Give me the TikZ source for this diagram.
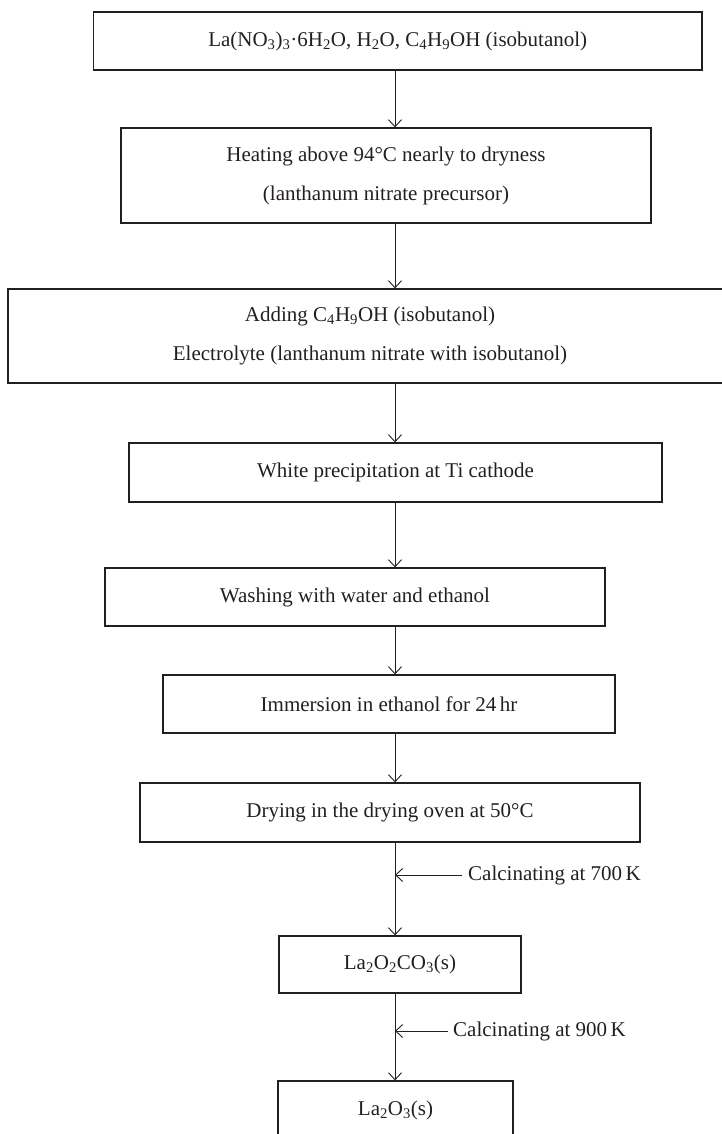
\documentclass[tikz,border=0pt]{standalone}
\usepackage{fontspec}
\setmainfont{Liberation Serif}
\usetikzlibrary{arrows.meta}
\definecolor{ink}{HTML}{231F20}
\begin{document}
\begin{tikzpicture}[x=1pt,y=-1pt,
  box/.style={draw=ink, text=ink, line width=1.25pt, rectangle, inner sep=0pt, align=center, font=\fontsize{21}{39}\selectfont},
  arr/.style={draw=ink, line width=0.9pt, -{Straight Barb[length=7pt,width=13pt]}},
  lab/.style={anchor=west, inner sep=0pt, text=ink, font=\fontsize{21}{25}\selectfont}]
\useasboundingbox (0,0) rectangle (722,1134);
\coordinate (spine) at (395,0);
\node[box, minimum width=608.5pt, minimum height=58pt] (b1) at (397.75,41)
  {La(NO\textsubscript{3})\textsubscript{3}·6H\textsubscript{2}O, H\textsubscript{2}O, C\textsubscript{4}H\textsubscript{9}OH (isobutanol)};
\node[box, minimum width=530pt, minimum height=95pt] (b2) at (386,175.5)
  {Heating above 94°C nearly to dryness\\(lanthanum nitrate precursor)};
\node[box, minimum width=724pt, minimum height=94pt] (b3) at (370,336)
  {Adding C\textsubscript{4}H\textsubscript{9}OH (isobutanol)\\Electrolyte (lanthanum nitrate with isobutanol)};
\node[box, minimum width=533pt, minimum height=59pt] (b4) at (395.5,472.5)
  {White precipitation at Ti cathode};
\node[box, minimum width=500pt, minimum height=58pt] (b5) at (355,597)
  {Washing with water and ethanol};
\node[box, minimum width=452pt, minimum height=58pt] (b6) at (389,704)
  {Immersion in ethanol for 24\,hr};
\node[box, minimum width=500pt, minimum height=59pt] (b7) at (390,812.5)
  {Drying in the drying oven at 50°C};
\node[box, minimum width=242pt, minimum height=57pt] (b8) at (400,964.5)
  {La\textsubscript{2}O\textsubscript{2}CO\textsubscript{3}(s)};
\node[box, minimum width=235pt, minimum height=58pt] (b9) at (395.5,1110)
  {La\textsubscript{2}O\textsubscript{3}(s)};
\draw[arr] (b1.south -| spine) -- (b2.north -| spine);
\draw[arr] (b2.south -| spine) -- (b3.north -| spine);
\draw[arr] (b3.south -| spine) -- (b4.north -| spine);
\draw[arr] (b4.south -| spine) -- (b5.north -| spine);
\draw[arr] (b5.south -| spine) -- (b6.north -| spine);
\draw[arr] (b6.south -| spine) -- (b7.north -| spine);
\draw[arr] (b7.south -| spine) -- (b8.north -| spine);
\draw[arr] (b8.south -| spine) -- (b9.north -| spine);
\coordinate (c1) at (395,875);
\coordinate (c2) at (395,1031);
\node[lab] (t1) at (462,875) {\hspace{6pt}Calcinating at 700\,K};
\node[lab] (t2) at (448,1031) {\hspace{5pt}Calcinating at 900\,K};
\draw[arr] (t1.west) -- (c1);
\draw[arr] (t2.west) -- (c2);
\end{tikzpicture}
\end{document}
